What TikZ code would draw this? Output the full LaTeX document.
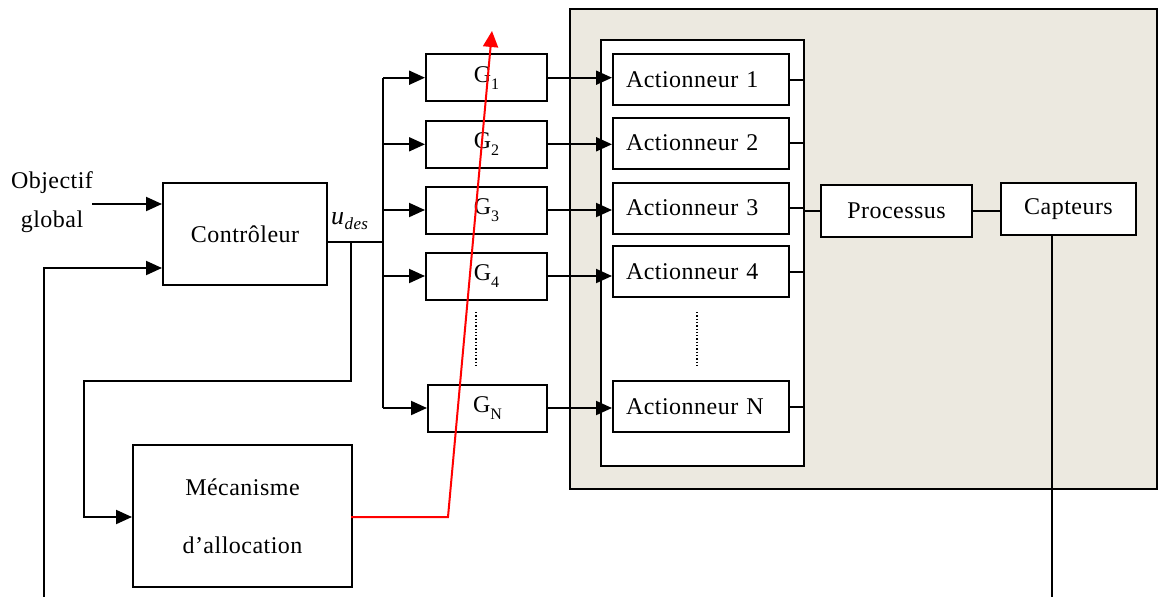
\documentclass[tikz,border=0pt]{standalone}
\usepackage{fontspec}
\setmainfont[LetterSpace=2]{Liberation Serif}
\usetikzlibrary{arrows.meta}
\definecolor{beige}{RGB}{236,233,224}
\begin{document}
\begin{tikzpicture}[x=1pt,y=-1pt,
  font=\fontsize{24}{28}\selectfont,
  box/.style={draw, line width=2pt, fill=white, inner sep=0pt, anchor=center},
  actbox/.style={box, minimum width=176pt, minimum height=51pt, text width=150pt, align=left},
  gbox/.style={box, minimum height=47pt},
  ln/.style={line width=2pt},
  arr/.style={ln, -{Triangle[length=16pt,width=14pt]}},
  redarr/.style={red, line width=2pt, -{Triangle[length=16pt,width=15pt]}},
  dots/.style={line width=1.3pt, dotted}]
\newcommand{\gsub}[1]{\raisebox{-0.28em}{\fontsize{16}{18}\selectfont #1}}
\path[use as bounding box] (0,0) rectangle (1160,597);

% system frame
\node[box, fill=beige, minimum width=587pt, minimum height=480pt] (sys) at (863.5,249) {};
\node[box, minimum width=203pt, minimum height=426pt] (act) at (702.5,253) {};

% actuators
\node[actbox] (A1) at (701,79.5) {Actionneur 1};
\node[actbox] (A2) at (701,143) {Actionneur 2};
\node[actbox] (A3) at (701,208) {Actionneur 3};
\node[actbox] (A4) at (701,271.5) {Actionneur 4};
\node[actbox] (AN) at (701,406.5) {Actionneur N};

\node[box, minimum width=151pt, minimum height=52pt] (P) at (896.5,211) {Processus};
\node[box, minimum width=135pt, minimum height=52pt] (Cap) at (1068.5,209) {Capteurs};

% G blocks
\node[gbox, minimum width=121pt] (G1) at (486.5,77.7) {G\gsub{1}};
\node[gbox, minimum width=121pt] (G2) at (486.5,144.3) {G\gsub{2}};
\node[gbox, minimum width=121pt] (G3) at (486.5,210) {G\gsub{3}};
\node[gbox, minimum width=121pt] (G4) at (486.5,276) {G\gsub{4}};
\node[gbox, minimum width=119pt] (GN) at (487.5,408) {G\gsub{N}};

% controller and allocation
\node[box, minimum width=164pt, minimum height=102pt] (C) at (245,234) {Contrôleur};
\node[box, minimum width=219pt, minimum height=142pt, align=center] (M) at (242.5,516) {Mécanisme\\[30pt]d’allocation};

% labels
\node (obj1) at (52,183) {Objectif};
\node (obj2) at (52,222) {global};
\node[anchor=base west, inner sep=0pt] (ud) at (331,224) {\fontsize{26}{28}\selectfont\textit{u}\raisebox{-0.2em}{\fontsize{17}{18}\selectfont\textit{des}}};

% coordinates
\coordinate (bus) at (383,0);
\coordinate (cout) at (327,242);
\coordinate (split) at (351,242);
\coordinate (objin) at (92,204);
\coordinate (fb) at (44,597);
\coordinate (fbin) at (44,268);
\coordinate (capout) at (1052,597);
\coordinate (alloc) at (351,517);
\coordinate (redknee) at (448,517);
\coordinate (redtip) at (492,31);

% G -> actuators
\foreach \k in {1,2,3,4,N} {
  \draw[arr] (G\k.east) -- (G\k.east -| A\k.west);
  \draw[ln] (A\k.east) -- (A\k.east -| act.east);
  \draw[arr] (bus |- G\k.west) -- (G\k.west);
}
\draw[ln] (bus |- G1.west) -- (bus |- GN.west);
\draw[ln] (C.east |- cout) -- (bus |- cout);

% process chain
\draw[ln] (act.east |- P.west) -- (P.west);
\draw[ln] (P.east) -- (P.east -| Cap.west);
\draw[ln] (Cap.south -| capout) -- (capout);

% inputs
\draw[arr] (objin) -- (objin -| C.west);
\draw[arr] (fb) -- (fbin) -- (fbin -| C.west);
\draw[arr] (split) -- (351,381) -- (84,381) -- (84,517) -- (M.west |- alloc);

% red
\draw[redarr] (alloc) -- (redknee) -- (redtip);

% dots
\draw[dots] (476,312) -- (476,365);
\draw[dots] (697,312) -- (697,365);
\end{tikzpicture}
\end{document}
